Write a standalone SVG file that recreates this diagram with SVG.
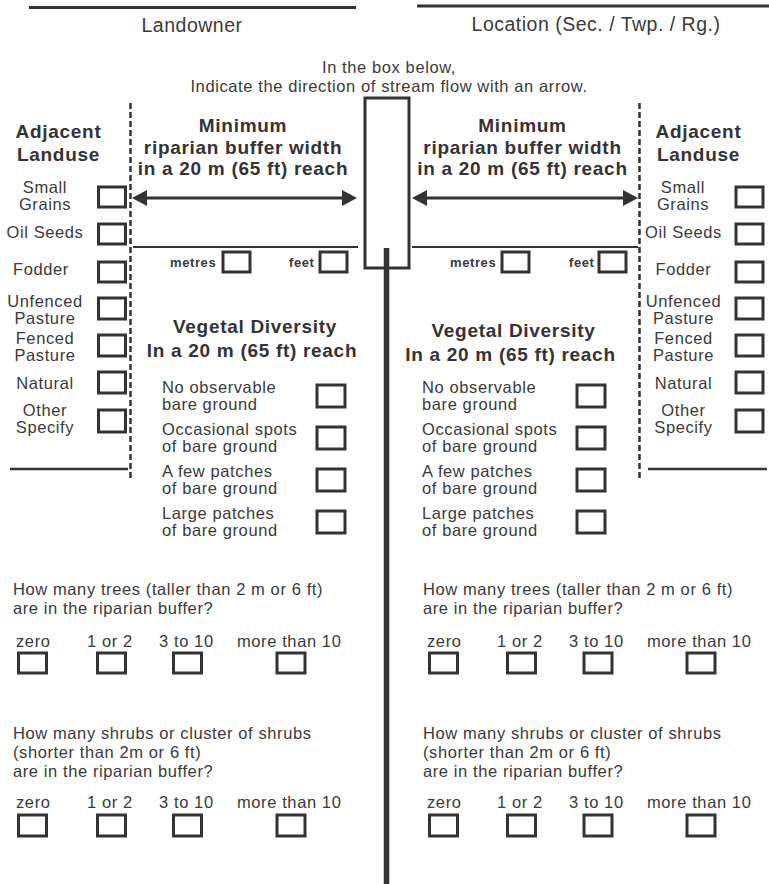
<svg xmlns="http://www.w3.org/2000/svg" width="769" height="884" viewBox="0 0 769 884">
<style>
.t{font-family:"Liberation Sans",Arial,sans-serif;font-size:16.5px;letter-spacing:0.6px;fill:#3a3a3a}
.hd{font-family:"Liberation Sans",Arial,sans-serif;font-size:19.5px;letter-spacing:0.5px;fill:#3a3a3a}
.h{font-family:"Liberation Sans",Arial,sans-serif;font-size:19px;font-weight:bold;letter-spacing:0.7px;fill:#333}
.s{font-family:"Liberation Sans",Arial,sans-serif;font-size:13px;font-weight:bold;letter-spacing:0.6px;fill:#3a3a3a}
.c{text-anchor:middle}
.box{fill:none;stroke:#333;stroke-width:3}
.ln{stroke:#333;fill:none}
.dash{stroke:#333;stroke-width:2.5;stroke-dasharray:6 3;fill:none}
</style>
<defs>
<marker id="ah" markerUnits="userSpaceOnUse" viewBox="0 0 15 16" markerWidth="15" markerHeight="16" refX="10" refY="8" orient="auto-start-reverse">
<path d="M0,0 L15,8 L0,16 Z" fill="#333"/>
</marker>
</defs>
<rect width="769" height="884" fill="#fff"/>

<g id="landowner-field">
<line class="ln" x1="29" y1="7.5" x2="356" y2="7.5" stroke-width="3"/>
<text class="hd c" x="192" y="32">Landowner</text>
</g>
<g id="location-field">
<line class="ln" x1="417" y1="6" x2="769" y2="6" stroke-width="3"/>
<text class="hd c" x="596" y="31">Location (Sec. / Twp. / Rg.)</text>
</g>

<g id="instruction">
<text class="t c" x="389" y="73">In the box below,</text>
<text class="t c" x="389" y="92">Indicate the direction of stream flow with an arrow.</text>
</g>

<g id="stream-box">
<rect class="box" x="365" y="98" width="44" height="170"/>
</g>

<g id="connectors">
<line class="ln" x1="386.5" y1="248" x2="386.5" y2="884" stroke-width="5.5"/>
<line class="dash" x1="130.5" y1="103" x2="130.5" y2="480"/>
<line class="dash" x1="639.5" y1="103" x2="639.5" y2="480"/>
<line class="ln" x1="137" y1="198" x2="352" y2="198" stroke-width="3" marker-start="url(#ah)" marker-end="url(#ah)"/>
<line class="ln" x1="417" y1="198" x2="633" y2="198" stroke-width="3" marker-start="url(#ah)" marker-end="url(#ah)"/>
<line class="ln" x1="133" y1="247" x2="358" y2="247" stroke-width="2"/>
<line class="ln" x1="412" y1="247" x2="638" y2="247" stroke-width="2"/>
<line class="ln" x1="10" y1="469" x2="128" y2="469" stroke-width="2.5"/>
<line class="ln" x1="648" y1="469" x2="767" y2="469" stroke-width="2.5"/>
</g>

<g id="left-landuse">
<text class="h c" x="58.5" y="138">Adjacent</text>
<text class="h c" x="58.5" y="161">Landuse</text>
<text class="t c" x="45" y="193">Small</text>
<text class="t c" x="45" y="210">Grains</text>
<rect class="box" x="98.5" y="187" width="27" height="20"/>
<text class="t c" x="45" y="238">Oil Seeds</text>
<rect class="box" x="98.5" y="224" width="27" height="20"/>
<text class="t c" x="41" y="275">Fodder</text>
<rect class="box" x="98.5" y="262" width="27" height="20"/>
<text class="t c" x="45" y="307">Unfenced</text>
<text class="t c" x="45" y="324">Pasture</text>
<rect class="box" x="98.5" y="298" width="27" height="21"/>
<text class="t c" x="45" y="344">Fenced</text>
<text class="t c" x="45" y="361">Pasture</text>
<rect class="box" x="98.5" y="335" width="27" height="21"/>
<text class="t c" x="45" y="389">Natural</text>
<rect class="box" x="98.5" y="372" width="27" height="21"/>
<text class="t c" x="45" y="416">Other</text>
<text class="t c" x="45" y="433">Specify</text>
<rect class="box" x="98.5" y="410" width="27" height="22"/>
</g>

<g id="right-landuse">
<text class="h c" x="698.5" y="138">Adjacent</text>
<text class="h c" x="698.5" y="161">Landuse</text>
<text class="t c" x="683" y="193">Small</text>
<text class="t c" x="683" y="210">Grains</text>
<rect class="box" x="736" y="187" width="27" height="20"/>
<text class="t c" x="683.5" y="238">Oil Seeds</text>
<rect class="box" x="736" y="224" width="27" height="20"/>
<text class="t c" x="683.5" y="275">Fodder</text>
<rect class="box" x="736" y="262" width="27" height="20"/>
<text class="t c" x="683.5" y="307">Unfenced</text>
<text class="t c" x="683.5" y="324">Pasture</text>
<rect class="box" x="736" y="298" width="27" height="21"/>
<text class="t c" x="683.5" y="344">Fenced</text>
<text class="t c" x="683.5" y="361">Pasture</text>
<rect class="box" x="736" y="335" width="27" height="21"/>
<text class="t c" x="683.5" y="389">Natural</text>
<rect class="box" x="736" y="372" width="27" height="21"/>
<text class="t c" x="683.5" y="416">Other</text>
<text class="t c" x="683.5" y="433">Specify</text>
<rect class="box" x="736" y="410" width="27" height="22"/>
</g>

<g id="left-buffer-width">
<text class="h c" x="243" y="132">Minimum</text>
<text class="h c" x="243" y="154">riparian buffer width</text>
<text class="h c" x="243" y="175">in a 20 m (65 ft) reach</text>
<text class="s" x="170" y="267">metres</text>
<rect class="box" x="223" y="252" width="27" height="20"/>
<text class="s" x="289" y="267">feet</text>
<rect class="box" x="320" y="252" width="27" height="20"/>
</g>

<g id="right-buffer-width">
<text class="h c" x="522.5" y="132">Minimum</text>
<text class="h c" x="522.5" y="154">riparian buffer width</text>
<text class="h c" x="522.5" y="175">in a 20 m (65 ft) reach</text>
<text class="s" x="450" y="267">metres</text>
<rect class="box" x="502" y="252" width="27" height="20"/>
<text class="s" x="569" y="267">feet</text>
<rect class="box" x="599" y="252" width="27" height="20"/>
</g>

<g id="left-vegetal-diversity">
<text class="h c" x="255" y="333">Vegetal Diversity</text>
<text class="h c" x="252" y="357">In a 20 m (65 ft) reach</text>
<text class="t" x="162" y="393">No observable</text>
<text class="t" x="162" y="410">bare ground</text>
<rect class="box" x="317" y="385" width="28" height="22"/>
<text class="t" x="162" y="435">Occasional spots</text>
<text class="t" x="162" y="452">of bare ground</text>
<rect class="box" x="317" y="427" width="28" height="22"/>
<text class="t" x="162" y="477">A few patches</text>
<text class="t" x="162" y="494">of bare ground</text>
<rect class="box" x="317" y="469" width="28" height="22"/>
<text class="t" x="162" y="519">Large patches</text>
<text class="t" x="162" y="536">of bare ground</text>
<rect class="box" x="317" y="511" width="28" height="22"/>
</g>

<g id="right-vegetal-diversity">
<text class="h c" x="513.5" y="337">Vegetal Diversity</text>
<text class="h c" x="510.5" y="361">In a 20 m (65 ft) reach</text>
<text class="t" x="422" y="393">No observable</text>
<text class="t" x="422" y="410">bare ground</text>
<rect class="box" x="577" y="385" width="28" height="22"/>
<text class="t" x="422" y="435">Occasional spots</text>
<text class="t" x="422" y="452">of bare ground</text>
<rect class="box" x="577" y="427" width="28" height="22"/>
<text class="t" x="422" y="477">A few patches</text>
<text class="t" x="422" y="494">of bare ground</text>
<rect class="box" x="577" y="469" width="28" height="22"/>
<text class="t" x="422" y="519">Large patches</text>
<text class="t" x="422" y="536">of bare ground</text>
<rect class="box" x="577" y="511" width="28" height="22"/>
</g>

<g id="left-trees">
<text class="t" x="13" y="595">How many trees (taller than 2 m or 6 ft)</text>
<text class="t" x="13" y="614">are in the riparian buffer?</text>
<text class="t" x="16" y="647">zero</text>
<text class="t" x="87" y="647">1 or 2</text>
<text class="t" x="159" y="647">3 to 10</text>
<text class="t" x="237" y="647">more than 10</text>
<rect class="box" x="18.5" y="653" width="28" height="20"/>
<rect class="box" x="97.5" y="653" width="28" height="20"/>
<rect class="box" x="173.5" y="653" width="28" height="20"/>
<rect class="box" x="277" y="653" width="28" height="20"/>
</g>

<g id="right-trees">
<text class="t" x="423" y="595">How many trees (taller than 2 m or 6 ft)</text>
<text class="t" x="423" y="614">are in the riparian buffer?</text>
<text class="t" x="427" y="647">zero</text>
<text class="t" x="497" y="647">1 or 2</text>
<text class="t" x="569" y="647">3 to 10</text>
<text class="t" x="647" y="647">more than 10</text>
<rect class="box" x="429.5" y="653" width="28" height="20"/>
<rect class="box" x="507.5" y="653" width="28" height="20"/>
<rect class="box" x="584" y="653" width="28" height="20"/>
<rect class="box" x="687" y="653" width="28" height="20"/>
</g>

<g id="left-shrubs">
<text class="t" x="13" y="739">How many shrubs or cluster of shrubs</text>
<text class="t" x="13" y="758">(shorter than 2m or 6 ft)</text>
<text class="t" x="13" y="777">are in the riparian buffer?</text>
<text class="t" x="16" y="808">zero</text>
<text class="t" x="87" y="808">1 or 2</text>
<text class="t" x="159" y="808">3 to 10</text>
<text class="t" x="237" y="808">more than 10</text>
<rect class="box" x="18.5" y="815" width="28" height="21"/>
<rect class="box" x="97.5" y="815" width="28" height="21"/>
<rect class="box" x="173.5" y="815" width="28" height="21"/>
<rect class="box" x="277" y="815" width="28" height="21"/>
</g>

<g id="right-shrubs">
<text class="t" x="423" y="739">How many shrubs or cluster of shrubs</text>
<text class="t" x="423" y="758">(shorter than 2m or 6 ft)</text>
<text class="t" x="423" y="777">are in the riparian buffer?</text>
<text class="t" x="427" y="808">zero</text>
<text class="t" x="497" y="808">1 or 2</text>
<text class="t" x="569" y="808">3 to 10</text>
<text class="t" x="647" y="808">more than 10</text>
<rect class="box" x="429.5" y="815" width="28" height="21"/>
<rect class="box" x="507.5" y="815" width="28" height="21"/>
<rect class="box" x="584" y="815" width="28" height="21"/>
<rect class="box" x="687" y="815" width="28" height="21"/>
</g>
</svg>
